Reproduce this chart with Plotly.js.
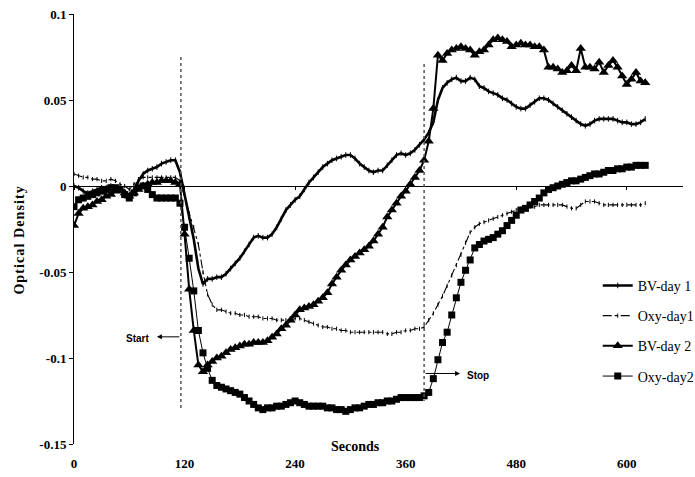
<!DOCTYPE html>
<html>
<head>
<meta charset="utf-8">
<script src="https://cdn.plot.ly/plotly-3.0.1.min.js"></script>
<style>
  html, body { margin: 0; padding: 0; background: #ffffff; }
  #chart { width: 695px; height: 477px; }
  /* spaced lettering for the vertical axis title */
  g.annotation[data-index="0"] text { letter-spacing: 1.1px; }
</style>
</head>
<body>
<div id="chart"></div>
<script>
// Sample times (s), one reading every 5 s
const seconds = [
  0, 5, 10, 15, 20, 25, 30, 35, 40, 45, 50, 55, 60, 65, 70, 75, 80, 85, 90, 95,
  100, 105, 110, 115, 120, 125, 130, 135, 140, 145, 150, 155, 160, 165, 170, 175, 180, 185, 190, 195,
  200, 205, 210, 215, 220, 225, 230, 235, 240, 245, 250, 255, 260, 265, 270, 275, 280, 285, 290, 295,
  300, 305, 310, 315, 320, 325, 330, 335, 340, 345, 350, 355, 360, 365, 370, 375, 380, 385, 390, 395,
  400, 405, 410, 415, 420, 425, 430, 435, 440, 445, 450, 455, 460, 465, 470, 475, 480, 485, 490, 495,
  500, 505, 510, 515, 520, 525, 530, 535, 540, 545, 550, 555, 560, 565, 570, 575, 580, 585, 590, 595,
  600, 605, 610, 615, 620
];

// Optical density, blood volume, day 1
const bvDay1 = [
  0.000, -0.001, -0.003, -0.004, -0.003, -0.002, -0.001, -0.001, 0.000, -0.001, -0.002, -0.004, -0.006, -0.002, 0.003, 0.007, 0.009, 0.010, 0.011, 0.013,
  0.014, 0.015, 0.015, 0.008, -0.005, -0.018, -0.031, -0.048, -0.057, -0.054, -0.054, -0.053, -0.053, -0.051, -0.048, -0.045, -0.042, -0.038, -0.034, -0.030,
  -0.029, -0.030, -0.030, -0.028, -0.024, -0.019, -0.014, -0.011, -0.008, -0.006, -0.002, 0.002, 0.005, 0.008, 0.011, 0.013, 0.015, 0.016, 0.017, 0.018,
  0.018, 0.016, 0.013, 0.011, 0.009, 0.008, 0.009, 0.009, 0.012, 0.015, 0.018, 0.019, 0.018, 0.019, 0.021, 0.024, 0.027, 0.031, 0.037, 0.050,
  0.057, 0.060, 0.062, 0.063, 0.061, 0.061, 0.063, 0.062, 0.058, 0.057, 0.055, 0.054, 0.053, 0.051, 0.050, 0.048, 0.046, 0.045, 0.045, 0.047,
  0.049, 0.051, 0.051, 0.050, 0.048, 0.046, 0.044, 0.042, 0.040, 0.038, 0.036, 0.035, 0.036, 0.038, 0.039, 0.039, 0.039, 0.039, 0.038, 0.037,
  0.037, 0.036, 0.036, 0.037, 0.039
];

// Optical density, oxygenation, day 1
const oxyDay1 = [
  0.007, 0.006, 0.005, 0.005, 0.004, 0.004, 0.003, 0.003, 0.004, 0.003, 0.001, 0.000, -0.002, 0.001, 0.004, 0.005, 0.005, 0.005, 0.005, 0.005,
  0.005, 0.005, 0.005, 0.003, -0.006, -0.016, -0.024, -0.034, -0.050, -0.063, -0.069, -0.072, -0.072, -0.073, -0.074, -0.074, -0.075, -0.075, -0.076, -0.076,
  -0.076, -0.077, -0.077, -0.077, -0.078, -0.078, -0.078, -0.078, -0.077, -0.077, -0.078, -0.079, -0.080, -0.081, -0.082, -0.082, -0.083, -0.083, -0.084, -0.084,
  -0.085, -0.085, -0.085, -0.085, -0.085, -0.085, -0.085, -0.085, -0.086, -0.086, -0.085, -0.085, -0.084, -0.084, -0.083, -0.083, -0.082, -0.078, -0.074, -0.069,
  -0.064, -0.058, -0.052, -0.046, -0.040, -0.033, -0.027, -0.024, -0.022, -0.021, -0.020, -0.019, -0.018, -0.017, -0.016, -0.015, -0.014, -0.013, -0.013, -0.012,
  -0.012, -0.011, -0.011, -0.011, -0.011, -0.011, -0.011, -0.012, -0.013, -0.013, -0.011, -0.009, -0.009, -0.009, -0.010, -0.011, -0.011, -0.011, -0.011, -0.011,
  -0.011, -0.011, -0.011, -0.011, -0.010
];

// Optical density, blood volume, day 2
const bvDay2 = [
  -0.023, -0.016, -0.013, -0.012, -0.011, -0.009, -0.008, -0.006, -0.005, -0.003, -0.002, -0.004, -0.006, -0.004, -0.002, 0.000, 0.001, 0.002, 0.002, 0.003,
  0.003, 0.003, 0.002, 0.001, -0.028, -0.060, -0.084, -0.104, -0.108, -0.104, -0.102, -0.100, -0.099, -0.097, -0.095, -0.094, -0.093, -0.092, -0.092, -0.091,
  -0.091, -0.091, -0.090, -0.088, -0.086, -0.083, -0.081, -0.078, -0.075, -0.072, -0.071, -0.070, -0.069, -0.067, -0.065, -0.062, -0.057, -0.053, -0.049, -0.046,
  -0.043, -0.041, -0.039, -0.037, -0.035, -0.032, -0.028, -0.024, -0.018, -0.014, -0.010, -0.006, -0.003, 0.001, 0.005, 0.009, 0.015, 0.026, 0.045, 0.076,
  0.073, 0.077, 0.079, 0.080, 0.081, 0.080, 0.079, 0.076, 0.078, 0.079, 0.082, 0.085, 0.086, 0.085, 0.084, 0.081, 0.082, 0.083, 0.082, 0.082,
  0.081, 0.081, 0.079, 0.069, 0.069, 0.068, 0.066, 0.067, 0.070, 0.067, 0.080, 0.069, 0.069, 0.068, 0.072, 0.066, 0.070, 0.073, 0.069, 0.064,
  0.059, 0.062, 0.066, 0.061, 0.060
];

// Optical density, oxygenation, day 2
const oxyDay2 = [
  -0.012, -0.008, -0.007, -0.006, -0.005, -0.004, -0.003, -0.002, -0.001, -0.001, -0.002, -0.005, -0.007, -0.004, -0.001, 0.000, -0.002, -0.005, -0.007, -0.007,
  -0.007, -0.007, -0.007, -0.010, -0.024, -0.042, -0.061, -0.084, -0.097, -0.106, -0.113, -0.116, -0.117, -0.118, -0.119, -0.120, -0.121, -0.123, -0.125, -0.127,
  -0.129, -0.130, -0.129, -0.129, -0.128, -0.128, -0.127, -0.126, -0.125, -0.126, -0.127, -0.128, -0.128, -0.128, -0.128, -0.129, -0.129, -0.130, -0.130, -0.131,
  -0.130, -0.129, -0.129, -0.128, -0.127, -0.127, -0.126, -0.126, -0.125, -0.125, -0.124, -0.123, -0.123, -0.123, -0.123, -0.123, -0.122, -0.120, -0.112, -0.101,
  -0.091, -0.085, -0.075, -0.065, -0.056, -0.049, -0.043, -0.036, -0.034, -0.032, -0.031, -0.030, -0.028, -0.026, -0.023, -0.020, -0.017, -0.014, -0.013, -0.011,
  -0.009, -0.007, -0.004, -0.002, -0.001, 0.000, 0.001, 0.002, 0.003, 0.003, 0.004, 0.005, 0.006, 0.007, 0.007, 0.008, 0.009, 0.009, 0.010, 0.010,
  0.011, 0.011, 0.012, 0.012, 0.012
];

const seriesNames = ['BV-day 1', 'Oxy-day1', 'BV-day 2', 'Oxy-day2'];
const xTickVals = [0, 120, 240, 360, 480, 600];
const yTickVals = [-0.15, -0.1, -0.05, 0, 0.05, 0.1];
const yTickText = ['-0.15', '-0.1', '-0.05', '0', '0.05', '0.1'];

// Stimulation window (s)
const stimStart = 116;
const stimStop = 380;

const serif = 'Liberation Serif, Times New Roman, serif';
const sans = 'Liberation Sans, Arial, sans-serif';

const traces = [
  {
    x: seconds, y: bvDay1, name: seriesNames[0], legendgroup: 'a',
    type: 'scatter', mode: 'lines+markers',
    line: { color: '#000', width: 2.6 },
    marker: { symbol: 'line-ns-open', size: 4, color: '#000', line: { width: 1, color: '#000' } }
  },
  {
    x: seconds, y: oxyDay1, name: seriesNames[1], legendgroup: 'b',
    type: 'scatter', mode: 'lines+markers',
    line: { color: '#000', width: 1.1, dash: 'dashdot' },
    marker: { symbol: 'line-ns-open', size: 3, color: '#000', line: { width: 1, color: '#000' } }
  },
  {
    x: seconds, y: bvDay2, name: seriesNames[2], legendgroup: 'c',
    type: 'scatter', mode: 'lines+markers',
    line: { color: '#000', width: 2 },
    marker: { symbol: 'triangle-up', size: 9, color: '#000' }
  },
  {
    x: seconds, y: oxyDay2, name: seriesNames[3], legendgroup: 'd',
    type: 'scatter', mode: 'lines+markers',
    line: { color: '#000', width: 1 },
    marker: { symbol: 'square', size: 7, color: '#000' }
  }
];

const dashedLine = { color: '#555', width: 1.5, dash: 'dot' };

const layout = {
  width: 695,
  height: 477,
  margin: { l: 74, r: 12, t: 14, b: 33, autoexpand: false },
  paper_bgcolor: '#fff',
  plot_bgcolor: '#fff',
  showlegend: true,
  legend: {
    x: 0.86, y: 0.405, xanchor: 'left', yanchor: 'top',
    bgcolor: 'rgba(0,0,0,0)',
    font: { family: serif, size: 14, color: '#000' },
    traceorder: 'grouped',
    tracegroupgap: 9
  },
  xaxis: {
    range: [0, 661],
    tickvals: xTickVals,
    ticktext: xTickVals.map(String),
    anchor: 'free',
    position: 0.6,
    showline: true, linecolor: '#000', linewidth: 1,
    ticks: 'outside', ticklen: 3, tickcolor: '#000', tickwidth: 1,
    ticklabelstandoff: 262,
    showgrid: false, zeroline: false,
    tickfont: { family: serif, size: 13, color: '#000', weight: 'bold' }
  },
  yaxis: {
    range: [-0.15, 0.1],
    tickvals: yTickVals,
    ticktext: yTickText,
    showline: true, linecolor: '#000', linewidth: 1,
    ticks: 'outside', ticklen: 4, tickcolor: '#000',
    showgrid: false, zeroline: false,
    tickfont: { family: serif, size: 13, color: '#000', weight: 'bold' }
  },
  shapes: [
    { type: 'line', xref: 'x', yref: 'y', x0: stimStart, x1: stimStart, y0: 0.075, y1: -0.129, line: dashedLine },
    { type: 'line', xref: 'x', yref: 'y', x0: stimStop, x1: stimStop, y0: 0.071, y1: -0.125, line: dashedLine }
  ],
  annotations: [
    {
      text: 'Optical Density', xref: 'paper', yref: 'paper', x: -0.09, y: 0.474,
      textangle: -90, xanchor: 'center', yanchor: 'middle', showarrow: false,
      font: { family: serif, size: 14, color: '#000', weight: 'bold' }
    },
    {
      text: 'Seconds', xref: 'paper', yref: 'paper', x: 0.462, y: -0.006,
      xanchor: 'center', yanchor: 'middle', showarrow: false,
      font: { family: serif, size: 14, color: '#000', weight: 'bold' }
    },
    {
      text: '', xref: 'x', yref: 'y', x: 90, y: -0.0877,
      axref: 'x', ayref: 'y', ax: stimStart, ay: -0.0877,
      showarrow: true, arrowhead: 2, arrowsize: 1, arrowwidth: 1, arrowcolor: '#000'
    },
    {
      text: 'Start', xref: 'x', yref: 'y', x: 69, y: -0.0885,
      xanchor: 'center', yanchor: 'middle', showarrow: false,
      font: { family: sans, size: 10, color: '#000', weight: 'bold' }
    },
    {
      text: '', xref: 'x', yref: 'y', x: 419, y: -0.109,
      axref: 'x', ayref: 'y', ax: stimStop, ay: -0.109,
      showarrow: true, arrowhead: 2, arrowsize: 1, arrowwidth: 1, arrowcolor: '#000'
    },
    {
      text: 'Stop', xref: 'x', yref: 'y', x: 424, y: -0.110,
      xanchor: 'left', yanchor: 'middle', showarrow: false,
      font: { family: sans, size: 10, color: '#000', weight: 'bold' }
    }
  ]
};

Plotly.newPlot('chart', traces, layout, { displayModeBar: false, staticPlot: true });
</script>
</body>
</html>
